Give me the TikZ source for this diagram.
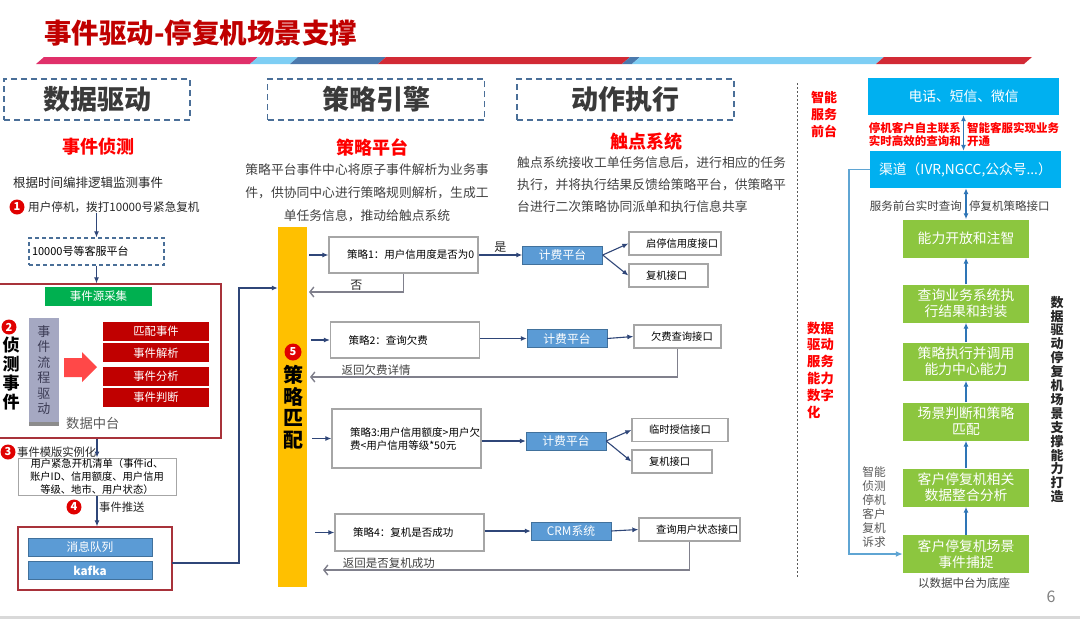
\documentclass[tikz,border=0pt]{standalone}
\usepackage{fontspec}
\setmainfont{Noto Sans CJK SC}
\usepackage{tikz}
\usetikzlibrary{arrows.meta, positioning, shadows, calc}
\definecolor{titleRed}{HTML}{C00000}
\definecolor{hdrBlue}{HTML}{4A6F98}
\definecolor{hdrText}{HTML}{3A3A3A}
\definecolor{txtGray}{HTML}{404040}
\definecolor{midGray}{HTML}{595959}
\definecolor{navyArrow}{HTML}{2F4678}
\definecolor{backGray}{HTML}{80808C}
\definecolor{boxGray}{HTML}{A6A6A6}
\definecolor{platBlue}{HTML}{5B9BD5}
\definecolor{platEdge}{HTML}{41719C}
\definecolor{frameRed}{HTML}{A8323A}
\definecolor{srcGreen}{HTML}{00B050}
\definecolor{flowGray}{HTML}{A5A8C2}
\definecolor{flowText}{HTML}{3C3C55}
\definecolor{evRed}{HTML}{C00000}
\definecolor{arrRed}{HTML}{FF4848}
\definecolor{numRed}{HTML}{E00000}
\definecolor{barYellow}{HTML}{FFC000}
\definecolor{skyBlue}{HTML}{00B0F0}
\definecolor{leafGreen}{HTML}{8CC63F}
\definecolor{upBlue}{HTML}{2E75B6}
\definecolor{lineBlue}{HTML}{5FA5D3}
\definecolor{barPink}{HTML}{E0306A}
\definecolor{barRed}{HTML}{D22A35}
\definecolor{barSky}{HTML}{7ECEF4}
\definecolor{barBlue}{HTML}{4B79AD}
\definecolor{bandGray}{HTML}{D9D9D9}
\newcommand{\pxfont}[2]{\fontsize{#1}{#2}\selectfont}

\begin{document}
\begin{tikzpicture}[
        x=1pt, y=-1pt,
        every node/.style={inner sep=0pt},
        hdr/.style={draw=hdrBlue, line width=1.6pt, dash pattern=on 6pt off 4pt,
            minimum height=41pt, text=hdrText, font=\pxfont{27}{30}\bfseries},
        rtl/.style={text=red, font=\pxfont{18}{20}\bfseries},
        desc/.style={text=txtGray, font=\pxfont{12.8}{23}},
        txt/.style={text=black!85, font=\pxfont{12.5}{14}},
        lbl/.style={text=txtGray, font=\pxfont{11.5}{13}},
        num/.style={circle, fill=numRed, text=white, minimum size=15pt, font=\pxfont{11}{11}\bfseries},
        dbox/.style={draw=hdrBlue, line width=1.2pt, dash pattern=on 4pt off 3pt, minimum height=27pt,
            text width=129pt, inner xsep=3pt, align=left, font=\pxfont{11}{13}},
        redframe/.style={draw=frameRed, line width=1.2pt},
        ev/.style={fill=evRed, text=white, minimum width=106pt, minimum height=19pt, font=\pxfont{11.3}{12}},
        que/.style={fill=platBlue, draw=platEdge, text=white, minimum width=124pt, minimum height=18pt,
            font=\pxfont{11.7}{12}},
        sbox/.style={draw=boxGray, line width=1.2pt, fill=white, text width=149pt, minimum height=36pt,
            align=left, execute at begin node={\leftskip=18pt}, font=\pxfont{10.5}{13}},
        plat/.style={fill=platBlue, draw=platEdge, text=white, minimum width=80pt, minimum height=18pt,
            font=\pxfont{11.8}{12}},
        ifc/.style={draw=boxGray, line width=1.3pt, fill=white, minimum height=23pt, align=left,
            execute at begin node={\leftskip=17pt}, font=\pxfont{10.3}{12}},
        cy/.style={fill=skyBlue, text=white, minimum width=191pt, minimum height=37pt, font=\pxfont{13.75}{15}},
        gb/.style={fill=leafGreen, text=white, minimum width=126pt, minimum height=38pt, align=center,
            font=\pxfont{13.8}{16}},
        rsm/.style={text=red, font=\pxfont{11.5}{13}\bfseries},
        rel/.style={-{Latex[length=6pt,width=5pt]}, navyArrow, line width=1.1pt},
        ret/.style={-{Straight Barb[length=4pt,width=10pt]}, backGray, line width=1.4pt},
        uparr/.style={-{Latex[length=6pt,width=5pt]}, upBlue, line width=1.6pt},
        dbl/.style={{Latex[length=6pt,width=5pt]}-{Latex[length=6pt,width=5pt]}, upBlue, line width=1.6pt},
        feed/.style={-{Latex[length=7pt,width=6pt]}, lineBlue, line width=1.8pt},
        vsep/.style={draw=midGray, line width=0.9pt, dash pattern=on 2pt off 2pt}
    ]
    \useasboundingbox (0,0) rectangle (1080,619);

    \node[anchor=west, text=titleRed, font=\pxfont{27.5}{30}\bfseries] (title) at (44,33) {事件驱动-停复机场景支撑};
    \foreach \a/\b/\c in {36/250/barPink, 250/290/barSky, 290/378/barBlue, 378/622/barRed,
        622/632/barBlue, 632/876/barSky, 876/1024/barRed}
        \fill[\c] (\a,64) -- (\a+8,57) -- (\b+8,57) -- (\b,64) -- cycle;

    \node[hdr, minimum width=186pt] (hd) at (97,99.5) {数据驱动};
    \node[hdr, minimum width=217pt, right=76pt of hd] (hs) {策略引擎};
    \node[hdr, minimum width=217pt, right=31pt of hs] (ha) {动作执行};

    % data driven
    \node[rtl] (det) at (98,147) {事件侦测};
    \node[txt, anchor=west] (mon) at (13,183) {根据时间编排逻辑监测事件};
    \node[num] (n1) at (17,207) {1};
    \node[txt, anchor=west, font=\pxfont{11.6}{13}] (call) at (28,207) {用户停机，拨打10000号紧急复机};
    \node[dbox] (cs) at (96.5,251.5) {10000号等客服平台};
    \draw[rel] (call.south -| cs) -- (cs.north);

    \node[redframe, minimum width=224pt, minimum height=154pt] (dz) at (109,361) {};
    \draw[rel] (cs.south) -- (dz.north -| cs);
    \node[fill=srcGreen, text=white, minimum width=107pt, minimum height=19pt, font=\pxfont{11.5}{12}] (src) at (98.5,296.5) {事件源采集};
    \node[fill=flowGray, text=flowText, minimum width=30pt, minimum height=104pt, align=center, font=\pxfont{13}{15.5},
        drop shadow={shadow xshift=0pt, shadow yshift=-4pt, fill=black!45, opacity=1}] (flow) at (44,370) {事\\件\\流\\程\\驱\\动};
    \fill[arrRed] (64,358) -- (82,358) -- (82,352) -- (97,367) -- (82,382) -- (82,377) -- (64,377) -- cycle;
    \node[ev] (e1) at (156,331.5) {匹配事件};
    \node[ev, below=2pt of e1] (e2) {事件解析};
    \node[ev, below=4pt of e2] (e3) {事件分析};
    \node[ev, below=2pt of e3] (e4) {事件判断};
    \node[anchor=west, text=midGray, font=\pxfont{13.3}{15}] (mid) at (66,423) {数据中台};
    \node[num] (n2) at (9,327) {2};
    \node[font=\pxfont{17}{19}\bfseries, align=center] (dl) at (11,374) {侦\\测\\事\\件};

    \node[num] (n3) at (8,452) {3};
    \node[txt, anchor=west, font=\pxfont{11.3}{13}] (tpl) at (17,452) {事件模版实例化};
    \node[draw=boxGray, line width=1pt, text width=158pt, minimum height=37pt, align=center, font=\pxfont{10.3}{13.3}] (lst) at (97,476.5)
        {用户紧急开机清单（事件id、\\账户ID、信用额度、用户信用\\等级、地市、用户状态）};
    \draw[rel] (dz.south -| lst) -- (lst.north);
    \node[num] (n4) at (74,507) {4};
    \node[txt, anchor=west, font=\pxfont{11.3}{13}] (push) at (99,507) {事件推送};
    \node[redframe, minimum width=154pt, minimum height=63pt] (qf) at (95,558.5) {};
    \draw[rel] (lst.south) -- (lst.south |- qf.north);
    \node[que] (mq) at (90,547) {消息队列};
    \node[que, font=\pxfont{11.7}{12}\bfseries] (kf) at (90,570.5) {kafka};

    % strategy engine
    \node[rtl] (spt) at (372.5,147) {策略平台};
    \node[desc, align=center] (sdesc) at (367,193) {策略平台事件中心将原子事件解析为业务事\\件，供协同中心进行策略规则解析，生成工\\单任务信息，推动给触点系统};
    \node[fill=barYellow, minimum width=29pt, minimum height=360pt] (ym) at (292.5,407) {};
    \node[num, minimum size=17pt] (n5) at (293,352) {5};
    \node[font=\pxfont{20}{21.5}\bfseries, align=center] (ymt) at (293,407) {策\\略\\匹\\配};
    \coordinate (qo) at (172,563);
    \coordinate (up) at (239,288);
    \draw[rel] (qo) -| (up) -- (up -| ym.west);

    \node[sbox] (s1) at (403.5,255) {策略1：用户信用度是否为0};
    \node[sbox] (s2) at (405,340) {策略2：查询欠费};
    \node[sbox, minimum height=59pt] (s3) at (406.5,438.5) {策略3:用户信用额度>用户欠\\费<用户信用等级*50元};
    \node[sbox, minimum height=37pt] (s4) at (409.5,532.5) {策略4：复机是否成功};
    \foreach \s in {s1,s2,s3,s4}
        \draw[rel] ([xshift=-19pt]\s.west) -- (\s.west);

    % action
    \node[rtl] (tp) at (646,142) {触点系统};
    \node[desc, anchor=west, align=left, font=\pxfont{12.8}{22}] (tdesc) at (517,185) {触点系统接收工单任务信息后，进行相应的任务\\执行，并将执行结果反馈给策略平台，供策略平\\台进行二次策略协同派单和执行信息共享};

    \node[plat] (p1) at (562.5,255) {计费平台};
    \node[plat] (p2) at (567,338.5) {计费平台};
    \node[plat] (p3) at (566,441) {计费平台};
    \node[plat] (p4) at (571,531) {CRM系统};
    \draw[rel] (s1) -- node[above=2pt, text=black!85, font=\pxfont{12}{12}] {是} (p1);
    \draw[rel] (p2 -| s2.east) -- (p2);
    \draw[rel] (p3 -| s3.east) -- (p3);
    \draw[rel] (p4 -| s4.east) -- (p4);

    \node[ifc, text width=92pt] (i1) at (675,243.5) {启停信用度接口};
    \node[ifc, text width=79pt] (i2) at (668.5,275.5) {复机接口};
    \node[ifc, text width=87pt] (i3) at (677.5,336.5) {欠费查询接口};
    \node[ifc, text width=96pt] (i4) at (680,430) {临时授信接口};
    \node[ifc, text width=80pt] (i5) at (672,461.5) {复机接口};
    \node[ifc, text width=101pt] (i6) at (689.5,529.5) {查询用户状态接口};
    \draw[rel] (p1.east) -- (i1.west);
    \draw[rel] (p1.east) -- (i2.west);
    \draw[rel] (p2.east) -- (i3.west);
    \draw[rel] (p3.east) -- (i4.west);
    \draw[rel] (p3.east) -- (i5.west);
    \draw[rel] (p4.east) -- (i6.west);

    \coordinate (r1) at (309,292);
    \coordinate (r2) at (310,377);
    \coordinate (r4) at (323,570);
    \draw[ret] (s1.south) |- (r1) node[pos=0.75, above=1pt, text=black!85, font=\pxfont{12}{12}] {否};
    \draw[ret] (i3.south) |- (r2) node[pos=0.91, above=1pt, lbl] {返回欠费详情};
    \draw[ret] (i6.south) |- (r4) node[pos=0.91, above=1pt, lbl] {返回是否复机成功};

    \draw[vsep] (797,83) -- (797,578);

    % right side
    \node[text=red, align=center, font=\pxfont{13}{17}\bfseries] (fr) at (824,114) {智能\\服务\\前台};
    \node[cy] (tel) at (963.5,96.5) {电话、短信、微信};
    \node[cy] (ch) at (965.5,169.5) {渠道（IVR,NGCC,公众号...）};
    \draw[dbl] (tel.south) -- (tel.south |- ch.north);
    \node[rsm, anchor=east, align=left] (lt) at (961,134.5) {停机客户自主联系\\实时高效的查询和};
    \node[rsm, anchor=west, align=left] (rt) at (967,134.5) {智能客服实现业务\\开通};

    \node[gb] (g1) at (966,238.5) {能力开放和注智};
    \node[gb] (g2) at (966,303.5) {查询业务系统执\\行结果和封装};
    \node[gb] (g3) at (966,361.5) {策略执行并调用\\能力中心能力};
    \node[gb] (g4) at (966,421.5) {场景判断和策略\\匹配};
    \node[gb] (g5) at (966,487.5) {客户停复机相关\\数据整合分析};
    \node[gb] (g6) at (966,554) {客户停复机场景\\事件捕捉};
    \draw[dbl] (ch.south -| g1) -- (g1.north);
    \node[lbl, anchor=east] (sq) at (962,206) {服务前台实时查询};
    \node[lbl, anchor=west] (si) at (969,206) {停复机策略接口};
    \foreach \a/\b in {g6/g5, g5/g4, g4/g3, g3/g2, g2/g1}
        \draw[uparr] (\a) -- (\b);
    \node[lbl] (base) at (964,583) {以数据中台为底座};
    \draw[feed] (ch.west) -- ++(-21,0) |- (g6.west);
    \node[text=midGray, align=center, font=\pxfont{11.7}{14}] (ask) at (874,507) {智能\\侦测\\停机\\客户\\复机\\诉求};
    \node[text=red, anchor=west, align=left, font=\pxfont{13.3}{16.8}\bfseries] (dsv) at (807,370) {数据\\驱动\\服务\\能力\\数字\\化};
    \node[text=black!85, align=center, font=\pxfont{13}{13.9}\bfseries] (vt) at (1057,399.5)
        {数\\据\\驱\\动\\停\\复\\机\\场\\景\\支\\撑\\能\\力\\打\\造};
    \node[text=black!50, font=\pxfont{16}{16}] (pg) at (1051,597) {6};
    \fill[bandGray] (0,616) rectangle (1080,619);
\end{tikzpicture}
\end{document}
